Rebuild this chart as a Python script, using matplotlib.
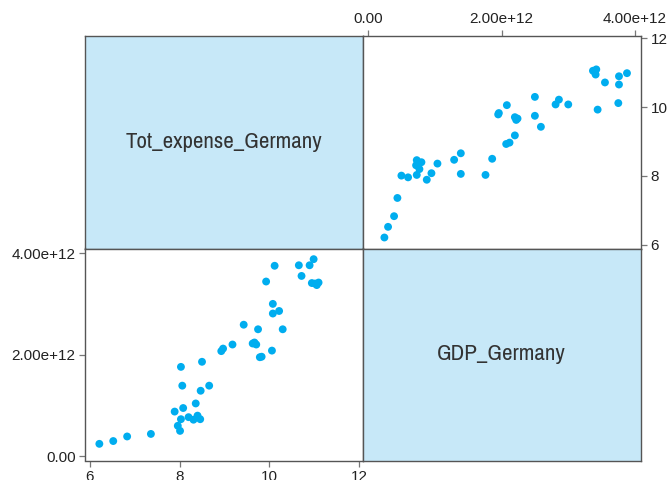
import matplotlib
matplotlib.use("Agg")
import matplotlib.pyplot as plt
from matplotlib import font_manager
from matplotlib.ticker import FixedLocator, FuncFormatter

# Germany: total expenditure vs GDP, one point per year
tot_expense = [6.21, 6.52, 6.83, 7.36, 7.89, 7.96, 8.01, 8.03, 8.03, 8.06,
               8.08, 8.20, 8.31, 8.36, 8.40, 8.46, 8.47, 8.50, 8.66, 8.93,
               8.97, 9.18, 9.43, 9.63, 9.67, 9.71, 9.75, 9.79, 9.83, 9.93,
               10.06, 10.08, 10.08, 10.12, 10.22, 10.30, 10.66, 10.72, 10.90, 10.95,
               10.99, 11.02, 11.06, 11.10]
gdp_e12 = [0.245, 0.30, 0.39, 0.44, 0.88, 0.60, 0.50, 1.76, 0.73, 1.39,
           0.95, 0.77, 0.72, 1.04, 0.80, 0.73, 1.29, 1.86, 1.39, 2.07,
           2.12, 2.20, 2.59, 2.22, 2.24, 2.20, 2.50, 1.95, 1.96, 3.44,
           2.08, 3.00, 2.81, 3.75, 2.86, 2.50, 3.76, 3.55, 3.76, 3.41,
           3.88, 3.40, 3.37, 3.42]
gdp = [v * 1e12 for v in gdp_e12]

var_names = ["Tot_expense_Germany", "GDP_Germany"]
tot_ticks = [6, 8, 10, 12]
gdp_ticks = [0.0, 2e12, 4e12]
tot_lim = (5.89, 12.08)
gdp_lim = (-0.083e12, 4.09e12)

DOT = "#00ADEF"
DIAG_FILL = "#C7E8F8"
FRAME = "#555555"
TICK = "#777777"
TEXT = "#222222"


def sci_fmt(v, pos=None):
    return "0.00" if v == 0 else f"{v:.2e}"


def narrow_family():
    """Pick a condensed sans face if one is installed."""
    for f in font_manager.fontManager.ttflist:
        name = f.name.lower()
        if ("narrow" in name or "condensed" in name) and f.style == "normal" \
                and f.weight in (400, "normal", "regular"):
            return f.name, 16.5
    return "Liberation Sans", 13.3


label_family, label_size = narrow_family()

fig = plt.figure(figsize=(6.68, 4.8), dpi=100)

x0, x1, x2 = 85 / 668, 362.5 / 668, 641 / 668
y_top, y_mid, y_bot = 1 - 35.7 / 480, 1 - 248.5 / 480, 1 - 460.5 / 480

ax_tl = fig.add_axes([x0, y_mid, x1 - x0, y_top - y_mid])
ax_tr = fig.add_axes([x1, y_mid, x2 - x1, y_top - y_mid])
ax_bl = fig.add_axes([x0, y_bot, x1 - x0, y_mid - y_bot])
ax_br = fig.add_axes([x1, y_bot, x2 - x1, y_mid - y_bot])

for ax in (ax_tl, ax_tr, ax_bl, ax_br):
    for sp in ax.spines.values():
        sp.set_color(FRAME)
        sp.set_linewidth(1.0)
    ax.tick_params(which="both", length=4.3, width=0.9, color=TICK,
                   labelsize=11, labelcolor=TEXT, pad=2.5)

# diagonal panels with variable names
for ax, name in ((ax_tl, var_names[0]), (ax_br, var_names[1])):
    ax.set_facecolor(DIAG_FILL)
    ax.set_xticks([])
    ax.set_yticks([])
    ax.text(0.5, 0.5, name, transform=ax.transAxes, ha="center", va="center",
            fontsize=label_size, color="#333333",
            family=[label_family, "DejaVu Sans"])

# upper-right: GDP (x, top axis) vs total expenditure (y, right axis)
ax_tr.scatter(gdp, tot_expense, s=32, color=DOT, edgecolors="none", zorder=3)
ax_tr.set_xlim(*gdp_lim)
ax_tr.set_ylim(*tot_lim)
ax_tr.xaxis.set_major_locator(FixedLocator(gdp_ticks))
ax_tr.xaxis.set_major_formatter(FuncFormatter(sci_fmt))
ax_tr.yaxis.set_major_locator(FixedLocator(tot_ticks))
ax_tr.xaxis.tick_top()
ax_tr.yaxis.tick_right()

# lower-left: total expenditure (x, bottom axis) vs GDP (y, left axis)
ax_bl.scatter(tot_expense, gdp, s=32, color=DOT, edgecolors="none", zorder=3)
ax_bl.set_xlim(*tot_lim)
ax_bl.set_ylim(*gdp_lim)
ax_bl.xaxis.set_major_locator(FixedLocator(tot_ticks))
ax_bl.yaxis.set_major_locator(FixedLocator(gdp_ticks))
ax_bl.yaxis.set_major_formatter(FuncFormatter(sci_fmt))

for ax in (ax_tr, ax_bl):
    for lab in ax.get_xticklabels() + ax.get_yticklabels():
        lab.set_family(["Liberation Sans", "DejaVu Sans"])

fig.savefig("out.png", dpi=100)
